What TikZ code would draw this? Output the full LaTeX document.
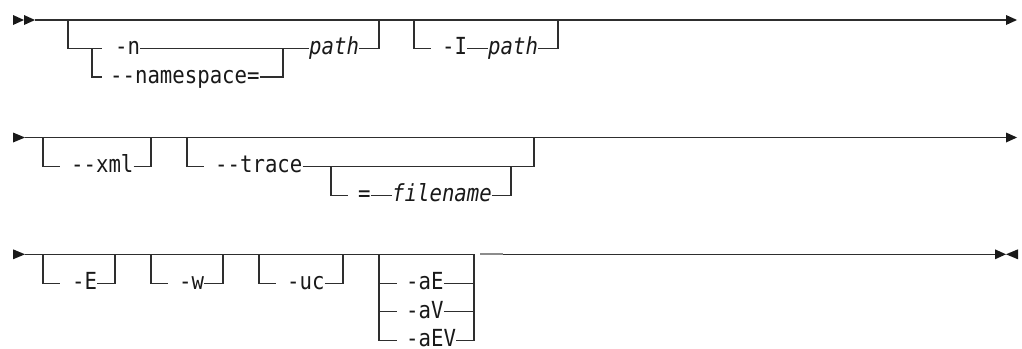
\documentclass[tikz,border=0pt]{standalone}
\usepackage{fontspec}
\newfontfamily\rrfont[FakeStretch=0.88,Ligatures=TeXOff]{DejaVu Sans Mono}
\newcommand\rrsize{\fontsize{23.5}{28}\selectfont}
\begin{document}
\begin{tikzpicture}[x=1pt,y=-1pt,
  rr/.style={line width=1.3pt,draw=black!82},
  lbl/.style={inner sep=0pt,anchor=mid west,font={\rrfont\rrsize},text=black!90},
  var/.style={lbl,font={\rrfont\itshape\rrsize}},
  tipfill/.style={fill=black!90},
  oddseg/.style={line width=2pt,draw=black!45}]
\rrfont\rrsize
\useasboundingbox[fill=white] (0,0) rectangle (1022,348);
% ---------------- Row 1 ----------------
\def\ya{20}\def\yb{48.5}\def\yc{77}
\fill[tipfill] (13,\ya-5) -- (24,\ya) -- (13,\ya+5) -- cycle;
\fill[tipfill] (24,\ya-5) -- (35,\ya) -- (24,\ya+5) -- cycle;
\fill[tipfill] (1006,\ya-5) -- (1017,\ya) -- (1006,\ya+5) -- cycle;
\coordinate (r1s) at (35,\ya);
\coordinate (r1e) at (1006,\ya);
\draw[rr] (r1s) -- (r1e);
% block -n / --namespace= path
\coordinate (a1) at (68,\ya);
\coordinate (a2) at (68,\yb);
\coordinate (a3) at (92,\yb);
\coordinate (a4) at (92,\yc);
\coordinate (a5) at (102,\yb);
\coordinate (a6) at (102,\yc);
\coordinate (a7) at (283,\yb);
\coordinate (a8) at (283,\yc);
\coordinate (a9) at (379,\yb);
\coordinate (a10) at (379,\ya);
\node[lbl] (optn) at (115,\yb) {-n};
\node[lbl] (optns) at (110,\yc) {--namespace=};
\node[var] (path1) at (309,\yb) {path};
\draw[rr] (a1) -- (a2) -- (a3) -- (a4) -- (a6);
\draw[rr] (a3) -- (a5);
\draw[rr] (optn.mid east) -- (a7);
\draw[rr] (optns.mid east) -- (a8) -- (a7);
\draw[rr] (a7) -- (path1.mid west);
\draw[rr] (path1.mid east) -- (a9) -- (a10);
% block -I path
\coordinate (b1) at (414,\ya);
\coordinate (b2) at (414,\yb);
\coordinate (b3) at (431,\yb);
\coordinate (b4) at (558,\yb);
\coordinate (b5) at (558,\ya);
\node[lbl] (optI) at (442,\yb) {-I};
\node[var] (path2) at (488,\yb) {path};
\draw[rr] (b1) -- (b2) -- (b3);
\draw[rr] (optI.mid east) -- (path2.mid west);
\draw[rr] (path2.mid east) -- (b4) -- (b5);
% ---------------- Row 2 ----------------
\def\yd{137.5}\def\ye{166.5}\def\yf{195.5}
\fill[tipfill] (13,\yd-5) -- (25,\yd) -- (13,\yd+5) -- cycle;
\fill[tipfill] (1006,\yd-5) -- (1017,\yd) -- (1006,\yd+5) -- cycle;
\coordinate (r2s) at (25,\yd);
\coordinate (r2e) at (1006,\yd);
\draw[rr] (r2s) -- (r2e);
% --xml
\coordinate (c1) at (43,\yd);
\coordinate (c2) at (43,\ye);
\coordinate (c3) at (60,\ye);
\coordinate (c4) at (151,\ye);
\coordinate (c5) at (151,\yd);
\node[lbl] (optxml) at (71,\ye) {--xml};
\draw[rr] (c1) -- (c2) -- (c3);
\draw[rr] (optxml.mid east) -- (c4) -- (c5);
% --trace [=filename]
\coordinate (d1) at (187,\yd);
\coordinate (d2) at (187,\ye);
\coordinate (d3) at (204,\ye);
\coordinate (d4) at (331,\ye);
\coordinate (d5) at (331,\yf);
\coordinate (d6) at (348,\yf);
\coordinate (d7) at (511,\yf);
\coordinate (d8) at (511,\ye);
\coordinate (d9) at (534,\ye);
\coordinate (d10) at (534,\yd);
\node[lbl] (opttr) at (215,\ye) {--trace};
\node[lbl] (opteq) at (358,\yf) {=};
\node[var] (fname) at (392,\yf) {filename};
\draw[rr] (d1) -- (d2) -- (d3);
\draw[rr] (opttr.mid east) -- (d9) -- (d10);
\draw[rr] (d4) -- (d5) -- (d6);
\draw[rr] (opteq.mid east) -- (fname.mid west);
\draw[rr] (fname.mid east) -- (d7) -- (d8);
% ---------------- Row 3 ----------------
\def\yg{254.3}\def\yh{283.3}\def\yi{311.8}\def\yj{340.3}
\fill[tipfill] (13,\yg-5) -- (25,\yg) -- (13,\yg+5) -- cycle;
\fill[tipfill] (995,\yg-5) -- (1006,\yg) -- (995,\yg+5) -- cycle;
\fill[tipfill] (1018,\yg-5) -- (1006,\yg) -- (1018,\yg+5) -- cycle;
\coordinate (r3s) at (25,\yg);
\coordinate (r3m) at (474,\yg);
\coordinate (r3g1) at (480,\yg);
\coordinate (r3g2) at (503,\yg);
\coordinate (r3e) at (995,\yg);
\draw[rr] (r3s) -- (r3m);
\draw[oddseg] (r3g1) -- (r3g2);
\draw[rr] (r3g2) -- (r3e);
% -E
\coordinate (e1) at (43,\yg);
\coordinate (e2) at (43,\yh);
\coordinate (e3) at (60,\yh);
\coordinate (e4) at (115,\yh);
\coordinate (e5) at (115,\yg);
\node[lbl] (optE) at (72,\yh) {-E};
\draw[rr] (e1) -- (e2) -- (e3);
\draw[rr] (optE.mid east) -- (e4) -- (e5);
% -w
\coordinate (f1) at (151,\yg);
\coordinate (f2) at (151,\yh);
\coordinate (f3) at (168,\yh);
\coordinate (f4) at (223,\yh);
\coordinate (f5) at (223,\yg);
\node[lbl] (optw) at (179,\yh) {-w};
\draw[rr] (f1) -- (f2) -- (f3);
\draw[rr] (optw.mid east) -- (f4) -- (f5);
% -uc
\coordinate (g1) at (259,\yg);
\coordinate (g2) at (259,\yh);
\coordinate (g3) at (276,\yh);
\coordinate (g4) at (343,\yh);
\coordinate (g5) at (343,\yg);
\node[lbl] (optuc) at (287,\yh) {-uc};
\draw[rr] (g1) -- (g2) -- (g3);
\draw[rr] (optuc.mid east) -- (g4) -- (g5);
% -aE / -aV / -aEV
\coordinate (h1) at (379,\yg);
\coordinate (h2) at (379,\yh);
\coordinate (h3) at (379,\yi);
\coordinate (h4) at (379,\yj);
\coordinate (h5) at (397,\yh);
\coordinate (h6) at (397,\yi);
\coordinate (h7) at (397,\yj);
\coordinate (k1) at (474,\yg);
\coordinate (k2) at (474,\yh);
\coordinate (k3) at (474,\yi);
\coordinate (k4) at (474,\yj);
\node[lbl] (optaE) at (406,\yh) {-aE};
\node[lbl] (optaV) at (406,\yi) {-aV};
\node[lbl] (optaEV) at (406,\yj) {-aEV};
\draw[rr] (h1) -- (h4) -- (h7);
\draw[rr] (h2) -- (h5);
\draw[rr] (h3) -- (h6);
\draw[rr] (optaE.mid east) -- (k2);
\draw[rr] (optaV.mid east) -- (k3);
\draw[rr] (optaEV.mid east) -- (k4) -- (k1);
\end{tikzpicture}
\end{document}
